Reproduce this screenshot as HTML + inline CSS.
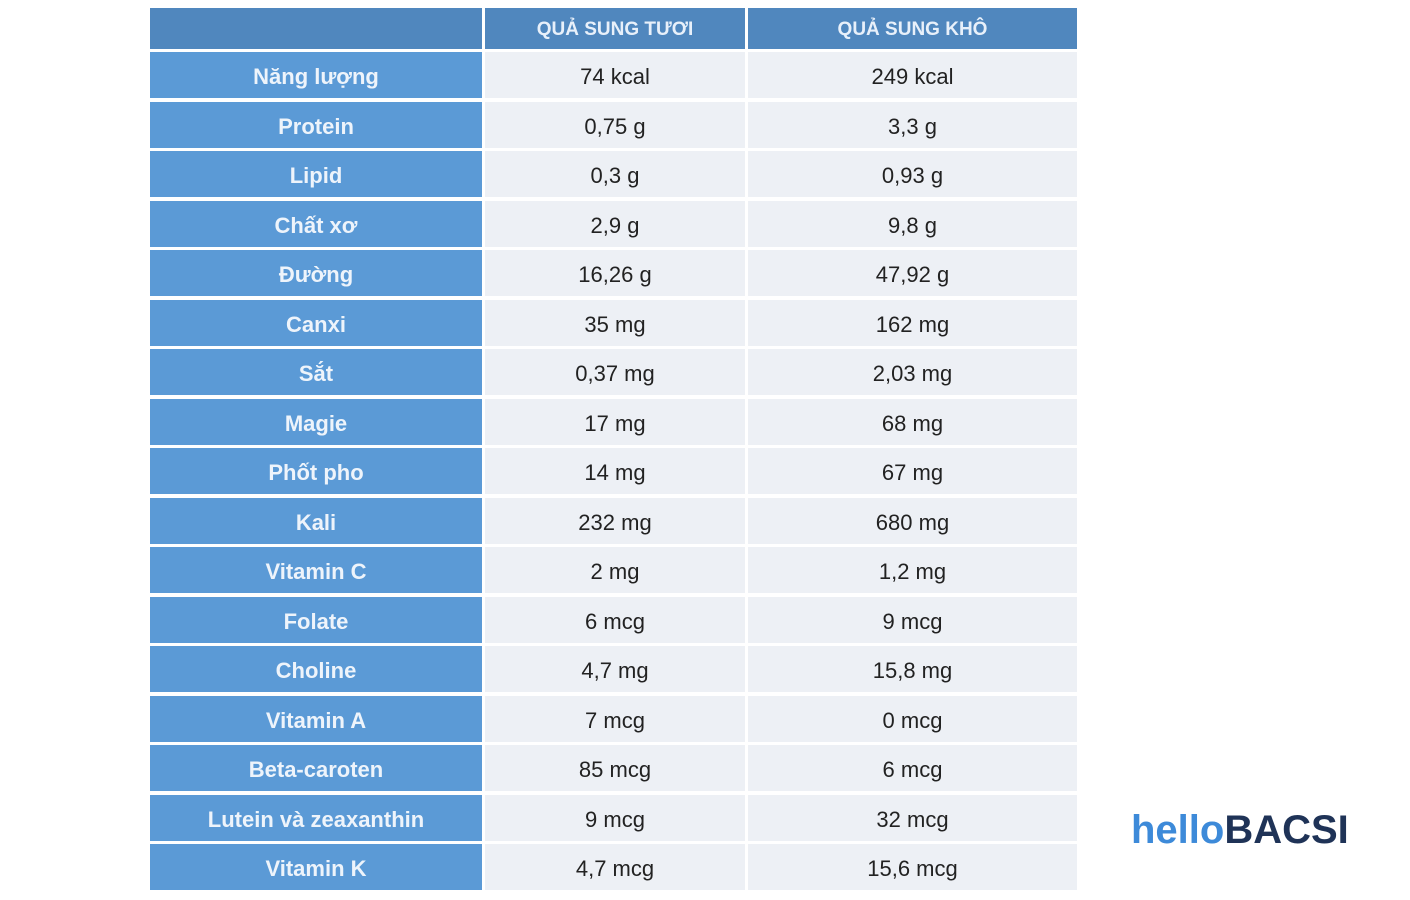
<!DOCTYPE html>
<html><head><meta charset="utf-8"><style>
body{margin:0;width:1410px;height:900px;background:#fff;position:relative;overflow:hidden;font-family:"Liberation Sans",sans-serif}
.c{position:absolute;display:flex;align-items:center;justify-content:center;box-sizing:border-box;padding-top:3px}
.h{background:#5087be;color:#e8f0fa;font-size:19px;font-weight:bold}
.l{background:#5b9ad6;color:#eef4fb;font-size:22px;font-weight:bold}
.d{background:#edf0f5;color:#222;font-size:22px}
.logo{position:absolute;left:1131px;top:808px;font-size:40px;font-weight:bold;letter-spacing:0px}
</style></head><body>
<div id="t"></div>
<div class="logo"><span style="color:#3d8ad9">hello</span><span style="color:#1f3357">BACSI</span></div>
<script>
const labels=["Năng lượng","Protein","Lipid","Chất xơ","Đường","Canxi","Sắt","Magie","Phốt pho","Kali","Vitamin C","Folate","Choline","Vitamin A","Beta-caroten","Lutein và zeaxanthin","Vitamin K"];
const fresh=["74 kcal","0,75 g","0,3 g","2,9 g","16,26 g","35 mg","0,37 mg","17 mg","14 mg","232 mg","2 mg","6 mcg","4,7 mg","7 mcg","85 mcg","9 mcg","4,7 mcg"];
const dried=["249 kcal","3,3 g","0,93 g","9,8 g","47,92 g","162 mg","2,03 mg","68 mg","67 mg","680 mg","1,2 mg","9 mcg","15,8 mg","0 mcg","6 mcg","32 mcg","15,6 mcg"];
const t=document.getElementById('t');
function cell(cls,x,y,w,h,txt,name){const e=document.createElement('div');e.className='c '+cls;
e.style.left=x+'px';e.style.top=y+'px';e.style.width=w+'px';e.style.height=h+'px';e.textContent=txt;


t.appendChild(e);}
cell('h',150,8,332,41,'','header-blank');
cell('h',485,8,260,41,'QUẢ SUNG TƯƠI','header-fresh');
cell('h',748,8,329,41,'QUẢ SUNG KHÔ','header-dried');
labels.forEach((lb,i)=>{const y=Math.round(52+i*49.5),h=46;
cell('l',150,y,332,h,lb,'row-label');
cell('d',485,y,260,h,fresh[i],'fresh-value');
cell('d',748,y,329,h,dried[i],'dried-value');});
</script>
</body></html>
